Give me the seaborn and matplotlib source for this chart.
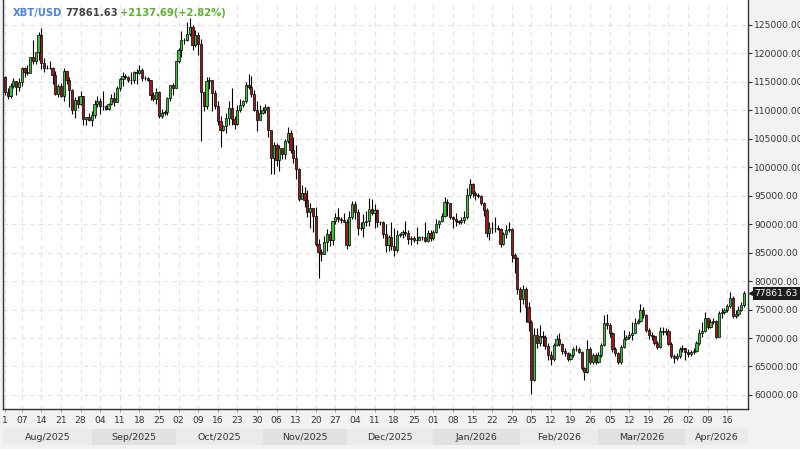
import numpy as np
import pandas as pd
import matplotlib
matplotlib.use('Agg')
import matplotlib.pyplot as plt
import matplotlib.transforms as mtransforms
import seaborn as sns

# Daily XBT/USD candles, in thousands of USD, 1 Aug 2025 .. 22 Apr 2026
first_open = 115.8

closes = [
    # Aug
    113.3, 112.5, 114.2, 115.1, 114.1, 115.0, 117.5, 116.7, 116.5, 119.3,
    118.7, 120.2, 123.3, 118.3, 117.4, 117.5, 117.4, 116.3, 112.9, 114.3,
    112.5, 116.9, 115.4, 113.5, 110.1, 111.8, 111.2, 112.6, 108.4, 108.8,
    108.3,
    # Sep
    109.2, 111.2, 111.7, 110.7, 110.7, 110.2, 111.1, 112.1, 111.5, 113.9,
    115.5, 116.1, 115.9, 115.3, 115.3, 116.8, 116.5, 117.1, 115.7, 115.7,
    115.3, 112.7, 112.0, 113.3, 109.0, 109.6, 109.7, 112.1, 114.4, 114.0,
    # Oct
    118.6, 120.6, 122.3, 122.4, 123.5, 124.7, 121.4, 123.3, 121.7, 113.2,
    110.7, 115.1, 115.3, 113.0, 110.8, 108.2, 106.5, 107.2, 108.6, 110.5,
    108.4, 107.6, 110.1, 111.0, 111.6, 114.5, 114.1, 112.9, 110.1, 108.3,
    109.6,
    # Nov
    110.1, 110.6, 106.5, 101.6, 103.9, 101.3, 103.3, 102.3, 104.7, 106.0,
    103.0, 101.6, 99.7, 94.4, 95.5, 94.2, 92.2, 92.9, 91.5, 86.6,
    85.1, 84.7, 86.8, 88.3, 87.3, 90.5, 91.3, 90.9, 90.8, 90.4,
    # Dec
    86.3, 91.3, 93.5, 92.1, 89.4, 89.3, 90.4, 90.6, 92.7, 92.0,
    92.5, 90.3, 90.3, 88.2, 86.4, 87.8, 86.2, 85.5, 88.1, 88.3,
    88.6, 88.5, 87.4, 87.6, 87.2, 87.3, 87.8, 87.8, 87.1, 88.4,
    87.5,
    # Jan
    88.7, 90.0, 90.6, 91.4, 93.9, 93.7, 91.3, 90.9, 90.5, 90.4,
    90.8, 91.2, 95.2, 97.0, 95.4, 95.1, 94.9, 93.7, 92.5, 88.4,
    89.3, 89.4, 89.3, 89.1, 86.5, 88.2, 89.0, 89.2, 84.6, 84.0,
    78.6,
    # Feb
    76.8, 78.6, 75.5, 72.9, 62.6, 70.5, 69.2, 70.4, 70.2, 68.6,
    67.0, 66.3, 68.8, 69.8, 69.0, 67.7, 67.4, 66.4, 67.0, 68.0,
    68.1, 67.6, 64.7, 64.0, 68.0, 65.8, 67.0, 65.8,
    # Mar
    67.0, 68.8, 72.6, 72.3, 70.8, 68.0, 67.4, 65.8, 68.4, 69.9,
    70.2, 70.6, 70.9, 72.6, 73.0, 74.9, 74.0, 71.4, 70.5, 70.3,
    69.2, 68.5, 71.3, 71.0, 71.2, 69.0, 66.8, 66.5, 66.8, 68.0,
    68.2,
    # Apr
    67.6, 67.2, 67.5, 67.8, 69.1, 70.9, 71.2, 73.5, 72.0, 72.8,
    73.0, 70.2, 74.4, 74.6, 75.0, 75.6, 77.0, 73.9, 74.2, 75.0,
    75.72394, 77.86163,
]

highs = [
    # Aug
    116.1, 114.0, 114.8, 115.7, 115.1, 115.7, 117.6, 117.7, 117.9, 119.3,
    122.3, 120.3, 123.7, 124.4, 119.2, 117.9, 118.6, 117.6, 117.0, 114.6,
    114.8, 117.4, 117.0, 115.8, 113.7, 112.4, 112.6, 113.4, 112.6, 108.9,
    109.5,
    # Sep
    109.9, 111.8, 112.6, 112.2, 113.4, 111.0, 111.3, 112.9, 113.2, 114.3,
    115.6, 116.7, 116.4, 116.1, 116.8, 116.9, 117.3, 117.9, 117.4, 116.1,
    115.9, 115.4, 113.2, 114.0, 113.4, 110.3, 110.0, 112.3, 114.5, 114.8,
    # Oct
    118.7, 121.0, 123.9, 122.8, 125.5, 126.2, 125.0, 124.1, 123.8, 122.5,
    113.3, 115.8, 115.9, 115.4, 113.6, 111.7, 109.0, 107.5, 109.5, 111.7,
    114.0, 109.0, 111.0, 112.0, 111.9, 115.0, 116.4, 116.1, 113.6, 111.7,
    111.0,
    # Nov
    110.6, 111.2, 110.8, 106.6, 104.5, 104.2, 104.0, 103.4, 105.0, 107.0,
    106.6, 105.3, 104.0, 99.9, 96.8, 96.6, 96.0, 93.8, 92.9, 93.1,
    87.4, 85.6, 88.0, 89.2, 88.8, 90.6, 91.9, 92.9, 91.2, 92.0,
    # Dec
    91.0, 92.3, 94.1, 94.0, 92.7, 90.3, 91.8, 92.3, 94.6, 94.4,
    93.5, 92.7, 90.6, 90.5, 90.0, 88.1, 90.3, 89.4, 89.0, 88.5,
    89.0, 90.6, 88.9, 87.9, 88.0, 89.5, 87.9, 88.0, 90.4, 89.0,
    89.0,
    # Jan
    88.9, 90.9, 90.8, 91.9, 94.7, 94.4, 93.6, 91.5, 91.9, 90.8,
    91.3, 92.4, 96.3, 97.9, 97.2, 95.8, 95.5, 95.2, 93.9, 92.9,
    90.4, 90.3, 91.2, 89.8, 89.4, 88.6, 89.8, 90.4, 89.3, 85.0,
    84.3,
    # Feb
    78.9, 79.4, 79.0, 76.3, 73.2, 71.7, 71.8, 72.3, 71.3, 70.6,
    69.2, 67.7, 69.1, 70.6, 70.9, 69.1, 68.3, 67.6, 67.4, 68.5,
    68.8, 68.4, 67.8, 64.9, 69.7, 68.4, 67.4, 67.3,
    # Mar
    67.5, 69.2, 74.0, 74.2, 72.6, 71.0, 68.4, 67.6, 68.8, 71.4,
    70.6, 71.2, 72.9, 73.6, 73.4, 75.9, 75.5, 74.2, 71.8, 71.0,
    70.6, 69.4, 71.9, 72.0, 71.7, 71.5, 69.3, 67.2, 67.4, 68.4,
    68.7,
    # Apr
    68.2, 68.0, 67.9, 68.3, 69.5, 71.5, 72.9, 74.6, 73.6, 73.4,
    73.6, 73.2, 74.8, 75.3, 75.3, 76.0, 78.0, 77.3, 75.0, 75.6,
    76.4, 78.2,
]

lows = [
    # Aug
    112.7, 112.0, 112.2, 114.0, 112.7, 113.4, 114.3, 115.9, 116.3, 116.6,
    118.1, 118.2, 118.9, 117.2, 116.8, 117.2, 117.3, 114.7, 112.7, 112.4,
    112.4, 111.7, 114.6, 110.6, 109.3, 108.7, 110.4, 110.9, 107.5, 107.4,
    108.1,
    # Sep
    107.3, 108.6, 110.6, 109.4, 110.0, 110.0, 110.0, 110.9, 110.8, 111.5,
    113.4, 114.3, 115.5, 114.9, 114.7, 114.8, 114.7, 116.4, 115.2, 115.4,
    115.2, 111.9, 111.6, 111.1, 108.7, 108.6, 109.2, 109.2, 111.6, 112.7,
    # Oct
    113.9, 118.4, 119.3, 121.6, 122.2, 123.1, 120.6, 121.1, 119.7, 104.6,
    109.8, 110.2, 113.7, 109.9, 110.2, 107.5, 103.6, 106.4, 106.1, 107.5,
    107.5, 106.7, 107.5, 109.7, 110.6, 111.3, 113.8, 112.3, 109.8, 106.4,
    108.6,
    # Nov
    109.4, 109.5, 105.3, 98.9, 98.9, 100.3, 99.3, 101.4, 101.5, 104.3,
    102.5, 100.8, 98.0, 94.0, 94.6, 93.0, 91.3, 89.3, 88.6, 86.1,
    80.6, 83.5, 84.7, 85.3, 86.1, 86.3, 90.1, 90.3, 90.2, 90.3,
    # Dec
    85.6, 86.2, 91.0, 91.0, 88.1, 88.9, 87.8, 89.7, 89.6, 91.6,
    89.3, 89.5, 89.8, 87.6, 85.2, 85.3, 85.4, 84.4, 85.1, 87.8,
    87.6, 87.9, 86.6, 86.4, 86.9, 86.6, 87.2, 87.3, 86.8, 86.9,
    87.1,
    # Jan
    87.3, 88.4, 89.3, 90.3, 91.3, 91.4, 90.9, 89.3, 89.6, 90.1,
    90.1, 90.2, 91.0, 94.6, 94.8, 94.3, 94.6, 93.4, 91.5, 87.8,
    87.3, 88.5, 88.6, 88.9, 86.0, 86.3, 87.6, 88.6, 83.3, 81.5,
    77.8,
    # Feb
    74.6, 75.9, 72.9, 71.2, 60.1, 62.4, 68.3, 68.6, 68.6, 68.1,
    66.1, 65.3, 66.0, 68.6, 68.6, 67.2, 66.9, 66.0, 66.2, 66.7,
    67.8, 67.4, 64.4, 62.6, 63.9, 65.4, 65.4, 65.4,
    # Mar
    65.6, 66.6, 68.6, 71.6, 70.2, 67.6, 66.8, 65.5, 65.4, 68.3,
    69.6, 69.9, 69.7, 70.8, 72.4, 72.8, 73.6, 71.0, 69.9, 69.6,
    68.8, 68.0, 68.3, 70.6, 70.5, 68.7, 66.5, 65.6, 66.2, 66.5,
    67.5,
    # Apr
    66.2, 66.6, 66.8, 67.2, 67.6, 68.8, 70.2, 71.0, 71.6, 71.8,
    72.5, 70.0, 70.1, 73.6, 74.3, 74.6, 75.3, 73.6, 73.5, 73.9,
    74.8, 75.5,
]

month_labels = ['Aug/2025', 'Sep/2025', 'Oct/2025', 'Nov/2025', 'Dec/2025',
                'Jan/2026', 'Feb/2026', 'Mar/2026', 'Apr/2026']
y_ticks = list(range(60000, 125001, 5000))

# build the frame
dates = pd.date_range('2025-08-01', periods=len(closes), freq='D')
df = pd.DataFrame({'date': dates,
                   'close': np.array(closes) * 1000,
                   'high': np.array(highs) * 1000,
                   'low': np.array(lows) * 1000})
df['open'] = df['close'].shift(1).fillna(first_open * 1000)
df['pos'] = (df['date'] - df['date'].iloc[0]).dt.days
df['up'] = df['close'] >= df['open']

sns.set_theme(style='white')
plt.rcParams['font.family'] = ['DejaVu Sans']

BG = '#f1f2f4'
GREEN = '#38c038'
RED = '#971b1b'
W, H = 800, 449
X0, X1 = -0.7, 265.4

fig = plt.figure(figsize=(8, 4.49), dpi=100, facecolor=BG)
ax = fig.add_axes([3 / W, 40 / H, 745 / W, 409 / H])
ax.set_facecolor('white')

# wicks then bodies
ax.vlines(df['pos'], df['low'], df['high'], color='black', linewidth=0.8, zorder=2)
ax.bar(df['pos'], df['close'] - df['open'], bottom=df['open'], width=0.8,
       color=np.where(df['up'], GREEN, RED), edgecolor='black', linewidth=0.5,
       zorder=3)

ax.set_xlim(X0, X1)
ax.set_ylim(57530, 129390)

# weekly ticks on Thursdays plus the first day
tick_dates = [dates[0]] + [d for d in dates if d.dayofweek == 3]
tick_pos = [(d - dates[0]).days for d in tick_dates]
tick_lbl = ['1'] + [d.strftime('%d') for d in tick_dates[1:]]
ax.set_xticks(tick_pos)
ax.set_xticklabels(tick_lbl)

ax.yaxis.tick_right()
ax.set_yticks(y_ticks)
ax.set_yticklabels([f'{v:.2f}' for v in y_ticks])

ax.tick_params(axis='y', right=True, length=3, width=0.8, pad=1.5,
               labelsize=6.6, labelcolor='#333333', color='#333333')
ax.tick_params(axis='x', bottom=True, length=2, width=0.6, pad=3,
               labelsize=6.6, labelcolor='#333333', color='#999999')

ax.grid(True, linestyle=(0, (4, 4)), color='#e2e2e2', linewidth=0.8)
ax.set_axisbelow(True)
for side in ['left', 'bottom', 'right']:
    ax.spines[side].set_visible(True)
    ax.spines[side].set_color('#333333')
    ax.spines[side].set_linewidth(1.0)
ax.spines['top'].set_visible(False)

# month strip
band = fig.add_axes([3 / W, 4 / H, 745 / W, 16 / H], sharex=ax)
band.set_ylim(0, 1)
band.axis('off')
month_starts = pd.date_range('2025-08-01', periods=len(month_labels), freq='MS')
edges = [(m - dates[0]).days for m in month_starts] + [X1]
edges[0] = X0
for i, lbl in enumerate(month_labels):
    c = '#ebebed' if i % 2 == 0 else '#e1e1e3'
    band.axvspan(edges[i], edges[i + 1], color=c, lw=0)
    band.text((edges[i] + edges[i + 1]) / 2, 0.5, lbl, ha='center', va='center',
              fontsize=6.8, color='#333333')
band.set_xlim(X0, X1)

# last price tag on the right axis
last = df['close'].iloc[-1]
prev = df['close'].iloc[-2]
trans = mtransforms.blended_transform_factory(ax.transAxes, ax.transData)
ax.plot([1.005], [last], marker='<', color='#1c1c1c', markersize=5,
        transform=trans, clip_on=False, zorder=5)
ax.text(1.009, last, f'{last:.2f}', transform=trans, ha='left', va='center',
        fontsize=6.6, color='white', clip_on=False, zorder=6,
        bbox=dict(boxstyle='square,pad=0.2', fc='#1c1c1c', ec='none'))

# header, laid out left to right
chg = last - prev
pct = chg / prev * 100
parts = [('XBT/USD', '#4f82d6'), (f'{last:.2f}', '#444444'),
         (f'+{chg:.2f}(+{pct:.2f}%)', '#5fae35')]
renderer = fig.canvas.get_renderer()
x_px = 13
for txt, col in parts:
    t = fig.text(x_px / W, 1 - 13 / H, txt, color=col, fontsize=7.2,
                 fontweight='bold', va='center', ha='left')
    x_px = t.get_window_extent(renderer).x1 + 2.5

fig.savefig('out.png', dpi=100, facecolor=BG)
